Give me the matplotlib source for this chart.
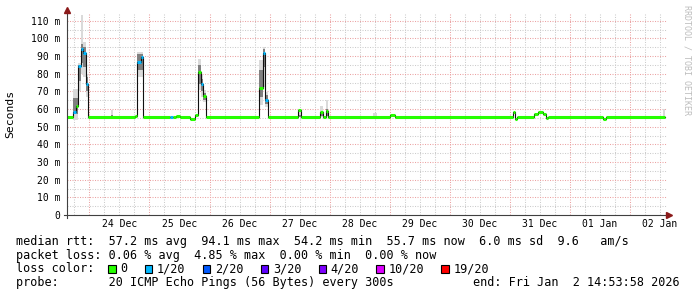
import matplotlib
matplotlib.use('Agg')
import matplotlib.pyplot as plt
from matplotlib.patches import Rectangle
from matplotlib.lines import Line2D

plt.rcParams['font.family'] = 'DejaVu Sans Mono'

W, H = 697, 297

# time axis in hours since 23 Dec 00:00, plot runs 23 Dec 14:54 -> 02 Jan 14:54
t_start, t_end = 14.9, 254.9
data_end = 254.1

# median rtt as a step series (value holds until the next step)
step_hour = [14.9, 17.5, 18.5, 19.5, 20.5, 21.5, 22.5, 23.5,
             42.2, 43.2, 44.5, 45.5,
             56.3, 57.3, 58.5, 60.1,
             64.1, 66.0, 67.3, 68.5, 69.5, 70.5,
             91.7, 93.3, 94.3, 95.5,
             107.5, 108.4,
             116.1, 117.5, 118.4, 119.5,
             144.1, 146.1,
             193.2, 194.1, 195.0,
             201.9, 203.5, 205.5, 206.4, 207.5,
             229.5, 230.4]
median_ms = [55.5, 58.3, 61.5, 84.6, 94.1, 91.8, 73.9, 55.6,
             56.2, 86.5, 89.3, 55.6,
             55.5, 55.6, 56.2, 55.6,
             54.2, 56.8, 81.2, 74.3, 67.3, 55.6,
             71.8, 91.8, 65.3, 55.6,
             59.2, 55.6,
             58.3, 55.5, 58.7, 55.6,
             56.4, 55.6,
             58.3, 54.5, 55.6,
             57.3, 58.1, 57.3, 54.8, 55.6,
             54.3, 55.7]
loss_step = [0, 1, 0, 1, 1, 1, 1, 0,
             0, 1, 1, 0,
             1, 0, 0, 0,
             0, 0, 0, 1, 0, 0,
             0, 1, 1, 0,
             0, 0,
             0, 0, 0, 0,
             0, 0,
             0, 0, 0,
             0, 0, 0, 0, 0,
             0, 0]

# smoke (spread of the 20 pings)
smoke_t0 = [17.5, 19.5, 20.5, 21.5, 22.5, 32.5, 43.2, 67.3, 68.5, 69.5,
            91.7, 93.3, 94.3, 107.5, 116.1, 118.4, 137.5, 253.3]
smoke_t1 = [19.5, 20.5, 21.5, 22.5, 23.5, 33.5, 45.5, 68.5, 69.5, 70.5,
            93.3, 94.3, 95.5, 108.8, 117.5, 119.5, 139.0, 254.1]
smoke_lo = [53.6, 70.0, 80.0, 78.0, 66.7, 55.5, 78.0, 70.5, 66.7, 63.9,
            62.0, 72.4, 61.0, 55.5, 55.5, 55.5, 55.5, 55.5]
smoke_hi = [71.4, 86.0, 113.0, 98.0, 80.0, 59.5, 92.0, 88.4, 79.0, 70.5,
            88.0, 94.9, 69.5, 59.5, 61.5, 65.0, 57.5, 60.0]
core_lo = [57.0, 76.0, 86.0, 84.0, 70.0, 55.5, 82.0, 74.0, 70.0, 65.0,
           67.0, 84.0, 63.0, 55.5, 56.0, 56.0, 55.5, 55.5]
core_hi = [66.0, 85.0, 97.0, 95.0, 78.0, 56.5, 91.0, 85.0, 77.0, 69.0,
           82.0, 94.0, 68.0, 56.5, 58.5, 60.0, 56.0, 56.0]

day_labels = ['24 Dec', '25 Dec', '26 Dec', '27 Dec', '28 Dec',
              '29 Dec', '30 Dec', '31 Dec', '01 Jan', '02 Jan']
loss_labels = ['0', '1/20', '2/20', '3/20', '4/20', '10/20', '19/20']
loss_colors = ['#26ff00', '#00b8ff', '#0059ff', '#5e00ff', '#7e00ff', '#dd00ff', '#ff0000']

stats_rtt = 'median rtt:  57.2 ms avg  94.1 ms max  54.2 ms min  55.7 ms now  6.0 ms sd  9.6   am/s'
stats_loss = 'packet loss: 0.06 % avg  4.85 % max  0.00 % min  0.00 % now'
probe_txt = 'probe:       20 ICMP Echo Pings (56 Bytes) every 300s'
end_txt = 'end: Fri Jan  2 14:53:58 2026'


def fx(x):
    return x / W


def fy(y):
    return 1 - y / H


fig = plt.figure(figsize=(W / 100, H / 100), dpi=100)
fig.patch.set_facecolor('white')

left, right, top, bottom = 66.7, 667.0, 13.0, 215.0
ax = fig.add_axes([fx(left), fy(bottom), fx(right - left), (bottom - top) / H])
ax.set_xlim(t_start, t_end)
ax.set_ylim(0, (bottom - top) / ((bottom - 20.7) / 110))
for s in ax.spines.values():
    s.set_visible(False)

# grid
dots = (0, (1, 1.4))
for h in range(18, 255, 6):
    major = h % 24 == 0
    ax.axvline(h, color='#eba3a3' if major else '#cccccc', lw=0.75, ls=dots, zorder=0)
for v in range(5, 115, 5):
    major = v % 10 == 0
    ax.axhline(v, color='#eba3a3' if major else '#cccccc', lw=0.75, ls=dots, zorder=0)

# smoke
w = [b - a for a, b in zip(smoke_t0, smoke_t1)]
ax.bar(smoke_t0, [b - a for a, b in zip(smoke_lo, smoke_hi)], bottom=smoke_lo, width=w,
       align='edge', color='#dadada', linewidth=0, zorder=1)
ax.bar(smoke_t0, [b - a for a, b in zip(core_lo, core_hi)], bottom=core_lo, width=w,
       align='edge', color='#808080', linewidth=0, zorder=2)

# median line: thin black steps plus loss-coloured segments
ends = step_hour[1:] + [data_end]
ax.step(step_hour + [data_end], median_ms + [median_ms[-1]], where='post',
        color='#101010', lw=0.8, zorder=3)
ax.hlines(median_ms, step_hour, ends, colors=[loss_colors[i] for i in loss_step],
          lw=2.2, zorder=4, capstyle='butt')

# ticks
ax.set_yticks(range(0, 111, 10))
ax.set_yticklabels(['0'] + ['%d m' % v for v in range(10, 111, 10)])
ax.set_xticks([36 + 24 * i for i in range(len(day_labels))])
ax.set_xticklabels(day_labels)
ax.tick_params(axis='y', length=0, pad=4.6, labelsize=7, colors='#000000')
ax.tick_params(axis='x', length=0, pad=3.2, labelsize=7, colors='#000000')

# axes with arrows
fig.add_artist(Line2D([fx(64), fx(668)], [fy(bottom), fy(bottom)], color='#404040', lw=0.8))
fig.add_artist(Line2D([fx(left), fx(left)], [fy(218), fy(11)], color='#404040', lw=0.8))
fig.add_artist(Line2D([fx(669)], [fy(bottom)], marker='>', markersize=4, color='#8b1a1a', lw=0))
fig.add_artist(Line2D([fx(left)], [fy(9.5)], marker='^', markersize=4, color='#8b1a1a', lw=0))

fig.text(fx(10.5), fy(114), 'Seconds', rotation=90, ha='center', va='center', fontsize=8.2)
fig.text(fx(687), fy(60), 'RRDTOOL / TOBI OETIKER', rotation=270, ha='center', va='center',
         fontsize=6, color='#bdbdbd')

# legend
fs = 8.5
fig.text(fx(16), fy(241.5), stats_rtt, ha='left', va='center', fontsize=fs)
fig.text(fx(16), fy(255.3), stats_loss, ha='left', va='center', fontsize=fs)
fig.text(fx(16), fy(269), 'loss color:', ha='left', va='center', fontsize=fs)
fig.text(fx(16), fy(282.5), probe_txt, ha='left', va='center', fontsize=fs)
fig.text(fx(680), fy(282.5), end_txt, ha='right', va='center', fontsize=fs)

cw = 7.1
bx = 108.3
for lab, col in zip(loss_labels, loss_colors):
    fig.add_artist(Rectangle((fx(bx), fy(273)), 7.5 / W, 8 / H, transform=fig.transFigure,
                             facecolor=col, edgecolor='black', lw=0.8))
    fig.text(fx(bx + 12), fy(269), lab, ha='left', va='center', fontsize=fs)
    bx = bx + 12 + len(lab) * cw + 17.5

fig.savefig('out.png', dpi=100)
